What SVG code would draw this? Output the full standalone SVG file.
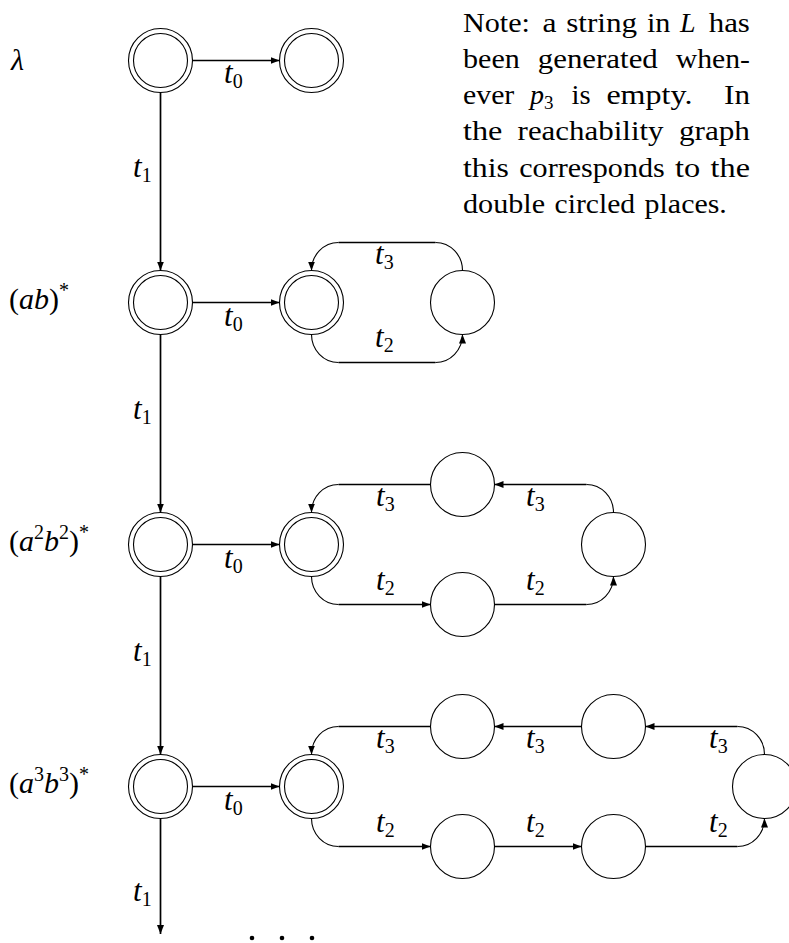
<svg xmlns="http://www.w3.org/2000/svg" width="789" height="943" viewBox="0 0 789 943">
<style>
  .dbl circle, .place circle { fill: #fff; stroke: #000; stroke-width: 1.1; }
  .ln { stroke: #000; stroke-width: 1.7; fill: none; }
  .arc { stroke: #000; stroke-width: 1.1; fill: none; }
  text { font-family: "Liberation Serif", "Times New Roman", serif; fill: #000; }
  .row { font-size: 30px; }
  .t { font-size: 31px; font-style: italic; }
  .it { font-style: italic; }
  .sub { font-size: 20px; font-style: normal; }
  .sup { font-size: 20px; font-style: normal; }
  #note text { font-size: 28px; }
</style>
<defs>
  <marker id="arr" markerUnits="userSpaceOnUse" markerWidth="10" markerHeight="8" refX="9" refY="3.5" orient="auto">
    <path d="M0,0 L9,3.5 L0,7 z" fill="#000"/>
  </marker>
</defs>

<!-- Row labels -->
<text class="row it" x="11" y="70">λ</text>
<text class="row" x="9" y="309">(<tspan class="it">ab</tspan>)<tspan class="sup" dy="-12">*</tspan></text>
<text class="row" x="9" y="551">(<tspan class="it">a</tspan><tspan class="sup" dy="-12">2</tspan><tspan class="it" dy="12">b</tspan><tspan class="sup" dy="-12">2</tspan><tspan dy="12">)</tspan><tspan class="sup" dy="-12">*</tspan></text>
<text class="row" x="9" y="793">(<tspan class="it">a</tspan><tspan class="sup" dy="-12">3</tspan><tspan class="it" dy="12">b</tspan><tspan class="sup" dy="-12">3</tspan><tspan dy="12">)</tspan><tspan class="sup" dy="-12">*</tspan></text>

<!-- Note (justified, word by word) -->
<g id="note">
  <text x="463" y="32" textLength="67" lengthAdjust="spacingAndGlyphs">Note:</text>
  <text x="542.6" y="32" textLength="14" lengthAdjust="spacingAndGlyphs">a</text>
  <text x="566.2" y="32" textLength="71" lengthAdjust="spacingAndGlyphs">string</text>
  <text x="646.9" y="32" textLength="23.5" lengthAdjust="spacingAndGlyphs">in</text>
  <text x="680" y="32" class="it">L</text>
  <text x="708.7" y="32" textLength="41.2" lengthAdjust="spacingAndGlyphs">has</text>

  <text x="463" y="68" textLength="56.8" lengthAdjust="spacingAndGlyphs">been</text>
  <text x="537.8" y="68" textLength="120" lengthAdjust="spacingAndGlyphs">generated</text>
  <text x="675.8" y="68" textLength="74.2" lengthAdjust="spacingAndGlyphs">when-</text>

  <text x="463" y="104" textLength="51.3" lengthAdjust="spacingAndGlyphs">ever</text>
  <text x="530.1" y="104"><tspan class="it">p</tspan><tspan font-size="19" dy="5">3</tspan></text>
  <text x="571.5" y="104" textLength="19.1" lengthAdjust="spacingAndGlyphs">is</text>
  <text x="606.4" y="104" textLength="86" lengthAdjust="spacingAndGlyphs">empty.</text>
  <text x="724" y="104" textLength="26" lengthAdjust="spacingAndGlyphs">In</text>

  <text x="463" y="140" textLength="39.4" lengthAdjust="spacingAndGlyphs">the</text>
  <text x="517.6" y="140" textLength="146" lengthAdjust="spacingAndGlyphs">reachability</text>
  <text x="678.9" y="140" textLength="71.1" lengthAdjust="spacingAndGlyphs">graph</text>

  <text x="463" y="177" textLength="45.9" lengthAdjust="spacingAndGlyphs">this</text>
  <text x="519.2" y="177" textLength="145.6" lengthAdjust="spacingAndGlyphs">corresponds</text>
  <text x="675.1" y="177" textLength="25.2" lengthAdjust="spacingAndGlyphs">to</text>
  <text x="710.6" y="177" textLength="39.4" lengthAdjust="spacingAndGlyphs">the</text>

  <text x="463" y="213" textLength="82.1" lengthAdjust="spacingAndGlyphs">double</text>
  <text x="554.6" y="213" textLength="80.5" lengthAdjust="spacingAndGlyphs">circled</text>
  <text x="644.6" y="213" textLength="82.2" lengthAdjust="spacingAndGlyphs">places.</text>
</g>

<!-- Connectors -->
<g id="connectors">
  <!-- t1 vertical chain -->
  <line class="ln" x1="160.5" y1="92.5" x2="160.5" y2="270.5" marker-end="url(#arr)"/>
  <line class="ln" x1="160.5" y1="334.5" x2="160.5" y2="512.5" marker-end="url(#arr)"/>
  <line class="ln" x1="160.5" y1="576.5" x2="160.5" y2="754.5" marker-end="url(#arr)"/>
  <line class="ln" x1="160.5" y1="818.5" x2="160.5" y2="934" marker-end="url(#arr)"/>
  <!-- t0 horizontals -->
  <line class="ln" x1="192.5" y1="60.5" x2="279.5" y2="60.5" marker-end="url(#arr)"/>
  <line class="ln" x1="192.5" y1="302.5" x2="279.5" y2="302.5" marker-end="url(#arr)"/>
  <line class="ln" x1="192.5" y1="544.5" x2="279.5" y2="544.5" marker-end="url(#arr)"/>
  <line class="ln" x1="192.5" y1="786.5" x2="279.5" y2="786.5" marker-end="url(#arr)"/>

  <!-- Row 2 loop -->
  <path class="arc" d="M462.5,270.5 A27,28 0 0 0 435.5,242.5"/>
  <line class="ln" x1="435.5" y1="242.5" x2="338.5" y2="242.5"/>
  <path class="arc" d="M338.5,242.5 A27,28 0 0 0 311.5,270.5" marker-end="url(#arr)"/>
  <path class="arc" d="M311.5,334.5 A27,28 0 0 0 338.5,362.5"/>
  <line class="ln" x1="338.5" y1="362.5" x2="435.5" y2="362.5"/>
  <path class="arc" d="M435.5,362.5 A27,28 0 0 0 462.5,334.5" marker-end="url(#arr)"/>

  <!-- Row 3 loop -->
  <path class="arc" d="M613.5,512.5 A27,28 0 0 0 586.5,484.5"/>
  <line class="ln" x1="586.5" y1="484.5" x2="494.5" y2="484.5" marker-end="url(#arr)"/>
  <line class="ln" x1="430.5" y1="484.5" x2="338.5" y2="484.5"/>
  <path class="arc" d="M338.5,484.5 A27,28 0 0 0 311.5,512.5" marker-end="url(#arr)"/>
  <path class="arc" d="M311.5,576.5 A27,28 0 0 0 338.5,604.5"/>
  <line class="ln" x1="338.5" y1="604.5" x2="430.5" y2="604.5" marker-end="url(#arr)"/>
  <line class="ln" x1="494.5" y1="604.5" x2="586.5" y2="604.5"/>
  <path class="arc" d="M586.5,604.5 A27,28 0 0 0 613.5,576.5" marker-end="url(#arr)"/>

  <!-- Row 4 loop -->
  <path class="arc" d="M764.5,754.5 A27,28 0 0 0 737.5,726.5"/>
  <line class="ln" x1="737.5" y1="726.5" x2="645.5" y2="726.5" marker-end="url(#arr)"/>
  <line class="ln" x1="581.5" y1="726.5" x2="494.5" y2="726.5" marker-end="url(#arr)"/>
  <line class="ln" x1="430.5" y1="726.5" x2="338.5" y2="726.5"/>
  <path class="arc" d="M338.5,726.5 A27,28 0 0 0 311.5,754.5" marker-end="url(#arr)"/>
  <path class="arc" d="M311.5,818.5 A27,28 0 0 0 338.5,846.5"/>
  <line class="ln" x1="338.5" y1="846.5" x2="430.5" y2="846.5" marker-end="url(#arr)"/>
  <line class="ln" x1="494.5" y1="846.5" x2="581.5" y2="846.5" marker-end="url(#arr)"/>
  <line class="ln" x1="645.5" y1="846.5" x2="737.5" y2="846.5"/>
  <path class="arc" d="M737.5,846.5 A27,28 0 0 0 764.5,818.5" marker-end="url(#arr)"/>

  <!-- Labels -->
  <g>
    <text class="t" x="133" y="177">t<tspan class="sub" dy="5">1</tspan></text>
    <text class="t" x="133" y="419">t<tspan class="sub" dy="5">1</tspan></text>
    <text class="t" x="133" y="661">t<tspan class="sub" dy="5">1</tspan></text>
    <text class="t" x="133" y="901">t<tspan class="sub" dy="5">1</tspan></text>

    <text class="t" x="224" y="83">t<tspan class="sub" dy="5">0</tspan></text>
    <text class="t" x="224" y="326">t<tspan class="sub" dy="5">0</tspan></text>
    <text class="t" x="224" y="568">t<tspan class="sub" dy="5">0</tspan></text>
    <text class="t" x="224" y="810">t<tspan class="sub" dy="5">0</tspan></text>

    <text class="t" x="375" y="264">t<tspan class="sub" dy="5">3</tspan></text>
    <text class="t" x="375" y="347">t<tspan class="sub" dy="5">2</tspan></text>

    <text class="t" x="376" y="506">t<tspan class="sub" dy="5">3</tspan></text>
    <text class="t" x="526" y="506">t<tspan class="sub" dy="5">3</tspan></text>
    <text class="t" x="376" y="590">t<tspan class="sub" dy="5">2</tspan></text>
    <text class="t" x="526" y="590">t<tspan class="sub" dy="5">2</tspan></text>

    <text class="t" x="376" y="748">t<tspan class="sub" dy="5">3</tspan></text>
    <text class="t" x="526" y="748">t<tspan class="sub" dy="5">3</tspan></text>
    <text class="t" x="709" y="748">t<tspan class="sub" dy="5">3</tspan></text>
    <text class="t" x="376" y="832">t<tspan class="sub" dy="5">2</tspan></text>
    <text class="t" x="526" y="832">t<tspan class="sub" dy="5">2</tspan></text>
    <text class="t" x="709" y="832">t<tspan class="sub" dy="5">2</tspan></text>
  </g>
</g>

<!-- Nodes -->
<g id="n_r1_a" class="dbl"><circle cx="160.5" cy="60.5" r="32"/><circle cx="160.5" cy="60.5" r="27"/></g>
<g id="n_r1_b" class="dbl"><circle cx="311.5" cy="60.5" r="32"/><circle cx="311.5" cy="60.5" r="27"/></g>

<g id="n_r2_a" class="dbl"><circle cx="160.5" cy="302.5" r="32"/><circle cx="160.5" cy="302.5" r="27"/></g>
<g id="n_r2_b" class="dbl"><circle cx="311.5" cy="302.5" r="32"/><circle cx="311.5" cy="302.5" r="27"/></g>
<g id="n_r2_c" class="place"><circle cx="462.5" cy="302.5" r="32"/></g>

<g id="n_r3_a" class="dbl"><circle cx="160.5" cy="544.5" r="32"/><circle cx="160.5" cy="544.5" r="27"/></g>
<g id="n_r3_b" class="dbl"><circle cx="311.5" cy="544.5" r="32"/><circle cx="311.5" cy="544.5" r="27"/></g>
<g id="n_r3_top" class="place"><circle cx="462.5" cy="484.5" r="32"/></g>
<g id="n_r3_bot" class="place"><circle cx="462.5" cy="604.5" r="32"/></g>
<g id="n_r3_right" class="place"><circle cx="613.5" cy="544.5" r="32"/></g>

<g id="n_r4_a" class="dbl"><circle cx="160.5" cy="786.5" r="32"/><circle cx="160.5" cy="786.5" r="27"/></g>
<g id="n_r4_b" class="dbl"><circle cx="311.5" cy="786.5" r="32"/><circle cx="311.5" cy="786.5" r="27"/></g>
<g id="n_r4_top1" class="place"><circle cx="462.5" cy="726.5" r="32"/></g>
<g id="n_r4_top2" class="place"><circle cx="613.5" cy="726.5" r="32"/></g>
<g id="n_r4_bot1" class="place"><circle cx="462.5" cy="846.5" r="32"/></g>
<g id="n_r4_bot2" class="place"><circle cx="613.5" cy="846.5" r="32"/></g>
<g id="n_r4_right" class="place"><circle cx="764.5" cy="786.5" r="32"/></g>

<!-- Ellipsis -->
<g id="ellipsis" fill="#000">
  <circle cx="252" cy="938" r="2.3"/>
  <circle cx="282" cy="938" r="2.3"/>
  <circle cx="312" cy="938" r="2.3"/>
</g>
</svg>
